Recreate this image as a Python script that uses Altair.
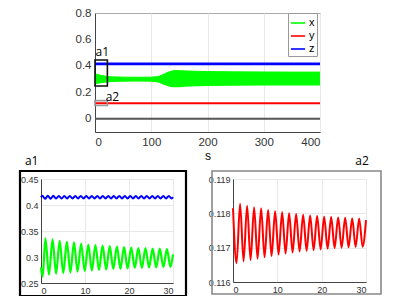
import altair as alt
import pandas as pd

# ---------------- main panel data ----------------
env_t = [0, 10, 20, 30, 50, 75, 100, 110, 115, 120, 125, 130, 135, 140, 145, 150, 160, 180, 200, 250, 300, 350, 400]
x_hi = [0.340, 0.329, 0.321, 0.317, 0.315, 0.314, 0.315, 0.318, 0.324, 0.333, 0.343, 0.352, 0.359, 0.364, 0.365, 0.364, 0.362, 0.359, 0.357, 0.355, 0.354, 0.353, 0.353]
x_lo = [0.261, 0.268, 0.274, 0.278, 0.280, 0.281, 0.280, 0.277, 0.271, 0.262, 0.253, 0.246, 0.241, 0.238, 0.238, 0.239, 0.242, 0.246, 0.248, 0.250, 0.251, 0.252, 0.252]
line_t = [0, 400]
y_main = [0.118, 0.118]
z_main = [0.415, 0.415]
zero_main = [0.0, 0.0]

box_names = ["a1", "a2"]
box_t1 = [0, 0]
box_t2 = [22, 22]
box_v1 = [0.248, 0.100]
box_v2 = [0.444, 0.137]
lab_t = [1, 19]
lab_v = [0.505, 0.168]

# ---------------- inset a1 data ----------------
a1_x_t = [0, 0.38, 1.00, 1.81, 2.62, 3.43, 4.25, 5.06, 5.87, 6.68, 7.50, 8.31, 9.12, 9.93, 10.75, 11.56,
          12.37, 13.18, 14.00, 14.81, 15.62, 16.43, 17.25, 18.06, 18.87, 19.68, 20.50, 21.31, 22.12,
          22.93, 23.75, 24.56, 25.37, 26.18, 27.00, 27.81, 28.62, 29.43, 30.0]
a1_x_v = [0.280, 0.262, 0.336, 0.266, 0.334, 0.268, 0.331, 0.269, 0.329, 0.270, 0.328, 0.272, 0.326, 0.273,
          0.324, 0.274, 0.323, 0.275, 0.322, 0.276, 0.321, 0.277, 0.320, 0.277, 0.319, 0.278, 0.318, 0.279,
          0.317, 0.279, 0.317, 0.280, 0.316, 0.280, 0.316, 0.281, 0.315, 0.281, 0.305]
a1_z_t = [0, 0.30, 0.92, 1.55, 2.17, 2.80, 3.42, 4.05, 4.67, 5.30, 5.92, 6.55, 7.17, 7.80, 8.42, 9.05, 9.67,
          10.30, 10.92, 11.55, 12.17, 12.80, 13.42, 14.05, 14.67, 15.30, 15.92, 16.55, 17.17, 17.80, 18.42,
          19.05, 19.67, 20.30, 20.92, 21.55, 22.17, 22.80, 23.42, 24.05, 24.67, 25.30, 25.92, 26.55, 27.17,
          27.80, 28.42, 29.05, 29.67, 30.0]
a1_z_v = [0.415, 0.4178, 0.4118, 0.4176, 0.4122, 0.4176, 0.4124, 0.4175, 0.4124, 0.4175, 0.4125, 0.4175,
          0.4125, 0.4175, 0.4125, 0.4175, 0.4125, 0.4175, 0.4125, 0.4175, 0.4125, 0.4175, 0.4125, 0.4175,
          0.4125, 0.4175, 0.4125, 0.4175, 0.4125, 0.4175, 0.4125, 0.4175, 0.4125, 0.4175, 0.4125, 0.4175,
          0.4125, 0.4175, 0.4125, 0.4175, 0.4125, 0.4175, 0.4125, 0.4175, 0.4125, 0.4175, 0.4125, 0.4175,
          0.4125, 0.4150]

# ---------------- inset a2 data ----------------
a2_y_t = [0, 0.80, 1.60, 2.38, 3.18, 3.96, 4.76, 5.54, 6.34, 7.12, 7.92, 8.70, 9.50, 10.28, 11.08, 11.86,
          12.66, 13.44, 14.24, 15.02, 15.82, 16.60, 17.40, 18.18, 18.98, 19.76, 20.56, 21.34, 22.14, 22.92,
          23.72, 24.50, 25.30, 26.08, 26.88, 27.66, 28.46, 29.24, 30.0]
a2_y_v = [0.11815, 0.11655, 0.11828, 0.11660, 0.11822, 0.11664, 0.11818, 0.11668, 0.11815, 0.11672, 0.11810,
          0.11676, 0.11806, 0.11680, 0.11803, 0.11683, 0.11800, 0.11686, 0.11798, 0.11689, 0.11796, 0.11691,
          0.11794, 0.11693, 0.11792, 0.11695, 0.11790, 0.11697, 0.11789, 0.11699, 0.11788, 0.11700, 0.11787,
          0.11701, 0.11786, 0.11702, 0.11785, 0.11703, 0.11780]

GREEN = "#00ff00"
RED = "#ff0000"
BLUE = "#0000ff"
FONT = "Liberation Sans"

color_scale = alt.Scale(domain=["x", "y", "z"], range=[GREEN, RED, BLUE])
legend = alt.Legend(title=None, orient="none", legendX=193, legendY=0, symbolType="stroke",
                    symbolSize=200, symbolStrokeWidth=1.6, labelFontSize=11, labelFont=FONT,
                    strokeColor="#999", fillColor="white", padding=2, rowPadding=0, labelOffset=3)

xs_main = alt.Scale(domain=[0, 400], nice=False)
ys_main = alt.Scale(domain=[-0.1, 0.8], nice=False)
x_axis_main = alt.Axis(values=[0, 100, 200, 300, 400], grid=True, title="s", titleFontSize=12,
                       titleFontWeight="normal", titleFont=FONT, titlePadding=3, labelFontSize=11.5,
                       labelPadding=4, labelOverlap=False)
y_axis_main = alt.Axis(values=[0, 0.2, 0.4, 0.6, 0.8], labelExpr="'' + datum.value", grid=False, title=None,
                       labelFontSize=11.5, labelPadding=4, labelOverlap=False)
MX = alt.X("t:Q", scale=xs_main, axis=x_axis_main)


def MY(field):
    return alt.Y(field, scale=ys_main, axis=y_axis_main)


env_df = pd.DataFrame({"t": env_t, "hi": x_hi, "lo": x_lo, "var": "x"})
y_df = pd.DataFrame({"t": line_t, "v": y_main, "var": "y"})
z_df = pd.DataFrame({"t": line_t, "v": z_main, "var": "z"})
zero_df = pd.DataFrame({"t": line_t, "v": zero_main})
box_df = pd.DataFrame({"name": box_names, "t1": box_t1, "t2": box_t2, "v1": box_v1, "v2": box_v2})
lab_df = pd.DataFrame({"name": box_names, "t": lab_t, "v": lab_v})

area = alt.Chart(env_df).mark_area(color=GREEN, opacity=1).encode(x=MX, y=MY("hi:Q"), y2="lo:Q")
x_edge = alt.Chart(env_df).mark_line(strokeWidth=1).encode(
    x=MX, y=MY("hi:Q"), color=alt.Color("var:N", scale=color_scale, legend=legend)
)
zero_line = alt.Chart(zero_df).mark_line(color="#555555", strokeWidth=2).encode(x=MX, y=MY("v:Q"))
y_line = alt.Chart(y_df).mark_line(strokeWidth=2).encode(
    x=MX, y=MY("v:Q"), color=alt.Color("var:N", scale=color_scale, legend=legend)
)
z_line = alt.Chart(z_df).mark_line(strokeWidth=2.8).encode(
    x=MX, y=MY("v:Q"), color=alt.Color("var:N", scale=color_scale, legend=legend)
)
box1 = alt.Chart(box_df[box_df.name == "a1"]).mark_rect(fillOpacity=0, stroke="#111111", strokeWidth=1.6).encode(
    x=alt.X("t1:Q", scale=xs_main, axis=x_axis_main), x2="t2:Q", y=MY("v1:Q"), y2="v2:Q")
box2 = alt.Chart(box_df[box_df.name == "a2"]).mark_rect(fillOpacity=0, stroke="#999999", strokeWidth=1.6).encode(
    x=alt.X("t1:Q", scale=xs_main, axis=x_axis_main), x2="t2:Q", y=MY("v1:Q"), y2="v2:Q")
labels = alt.Chart(lab_df).mark_text(align="left", baseline="middle", font="Open Sans", fontSize=12,
                                     color="black").encode(x=MX, y=MY("v:Q"), text="name:N")

main = alt.layer(area, x_edge, zero_line, y_line, z_line, box1, box2, labels).properties(
    width=225, height=119)

spacer = alt.Chart(pd.DataFrame({"a": [0]})).mark_point(opacity=0).properties(
    width=33, height=119, view=alt.ViewBackground(strokeOpacity=0))

# ---------------- insets ----------------
ax_small = dict(labelFontSize=9, grid=True, title=None, labelPadding=3, labelOverlap=False)

a1_x_df = pd.DataFrame({"t": a1_x_t, "v": a1_x_v})
a1_z_df = pd.DataFrame({"t": a1_z_t, "v": a1_z_v})
xs_in = alt.Scale(domain=[0, 30], nice=False)
a1_ys = alt.Scale(domain=[0.25, 0.45], nice=False)
in_x_axis = alt.Axis(values=[0, 10, 20, 30], **ax_small)
a1_y_axis = alt.Axis(values=[0.25, 0.3, 0.35, 0.4, 0.45], labelExpr="'' + datum.value", **ax_small)
A1X = alt.X("t:Q", scale=xs_in, axis=in_x_axis)
A1Y = alt.Y("v:Q", scale=a1_ys, axis=a1_y_axis)

a1_green = alt.Chart(a1_x_df).mark_line(color=GREEN, strokeWidth=2.2, interpolate="monotone").encode(
    x=A1X, y=A1Y)
a1_blue = alt.Chart(a1_z_df).mark_line(color=BLUE, strokeWidth=2, interpolate="monotone").encode(
    x=A1X, y=A1Y)
a1_frame = alt.Chart(pd.DataFrame({"a": [0]})).mark_rect(fillOpacity=0, stroke="black", strokeWidth=2.2).encode(
    x=alt.value(-21), x2=alt.value(145), y=alt.value(-8), y2=alt.value(117))
a1 = alt.layer(a1_green, a1_blue, a1_frame).properties(
    width=132, height=104,
    title=alt.TitleParams("a1", anchor="start", frame="bounds", font="Open Sans", fontSize=12,
                          fontWeight="normal", color="black", offset=2, dx=6))

a2_y_df = pd.DataFrame({"t": a2_y_t, "v": a2_y_v})
a2_ys = alt.Scale(domain=[0.116, 0.119], nice=False)
a2_red = alt.Chart(a2_y_df).mark_line(color=RED, strokeWidth=2, interpolate="monotone").encode(
    x=alt.X("t:Q", scale=xs_in, axis=in_x_axis),
    y=alt.Y("v:Q", scale=a2_ys, axis=alt.Axis(values=[0.116, 0.117, 0.118, 0.119], format=".3f", **ax_small)),
)
a2_frame = alt.Chart(pd.DataFrame({"a": [0]})).mark_rect(fillOpacity=0, stroke="#888888", strokeWidth=1.6).encode(
    x=alt.value(-21), x2=alt.value(148), y=alt.value(-8), y2=alt.value(115))
a2 = alt.layer(a2_red, a2_frame).properties(
    width=133, height=103,
    title=alt.TitleParams("a2", anchor="end", frame="bounds", font="Open Sans", fontSize=12,
                          fontWeight="normal", color="black", offset=2, dx=-13))

top = alt.hconcat(spacer, main, spacing=0).resolve_legend(color="independent").resolve_scale(color="independent")
bottom = alt.hconcat(a1, a2, spacing=19)

chart = alt.vconcat(top, bottom, spacing=-8).resolve_legend(color="independent").resolve_scale(
    color="independent"
).properties(
    padding={"left": 10, "top": -2, "right": 0, "bottom": 0}
).configure_view(stroke="#aaaaaa").configure_axis(
    labelFont=FONT, labelColor="#333333", domainColor="#444444", gridColor="#e8e8e8", ticks=False,
    labelOverlap=False
)

chart.save("out.html", embed_options={"renderer": "svg", "actions": False})
